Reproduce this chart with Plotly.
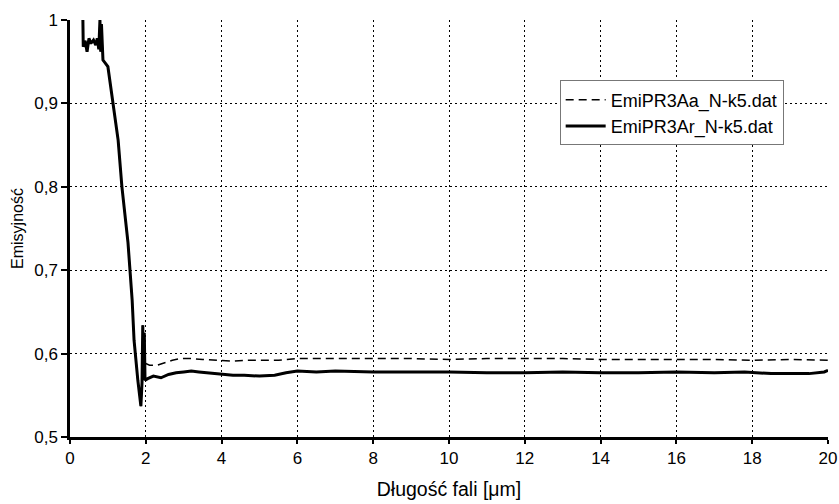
import plotly.graph_objects as go

# Solid series: EmiPR3Ar_N-k5.dat
x_ar = [0.34, 0.35, 0.40, 0.45, 0.50, 0.55, 0.62, 0.68, 0.72, 0.76, 0.79, 0.81, 0.83, 0.85, 0.87,
        1.00, 1.13, 1.27, 1.37, 1.53, 1.64, 1.69, 1.79, 1.84, 1.87, 1.90, 1.92, 1.94, 1.96, 1.98,
        2.05, 2.2, 2.4, 2.6, 2.8, 3.0, 3.2, 3.4, 3.6, 3.8, 4.0, 4.3, 4.6, 5.0, 5.4, 5.7, 6.0,
        6.5, 7.0, 8.0, 9.0, 10.0, 11.0, 12.0, 13.0, 14.0, 15.0, 16.0, 17.0, 17.8, 18.5, 19.0,
        19.5, 19.9, 20.0]
y_ar = [1.000, 0.968, 0.975, 0.962, 0.978, 0.972, 0.976, 0.970, 0.978, 0.965, 1.000, 0.962, 0.995, 0.958, 0.952,
        0.944, 0.900, 0.856, 0.800, 0.733, 0.664, 0.616, 0.568, 0.545, 0.537, 0.565, 0.634, 0.575, 0.625, 0.568,
        0.570, 0.573, 0.571, 0.575, 0.577, 0.578, 0.579, 0.578, 0.577, 0.576, 0.575, 0.574, 0.574, 0.573, 0.574, 0.577, 0.579,
        0.578, 0.579, 0.578, 0.578, 0.578, 0.577, 0.577, 0.578, 0.577, 0.577, 0.578, 0.577, 0.578, 0.576, 0.576,
        0.576, 0.578, 0.580]

# Dashed series: EmiPR3Aa_N-k5.dat
x_aa = [0.34, 0.35, 0.40, 0.45, 0.50, 0.55, 0.62, 0.68, 0.72, 0.76, 0.79, 0.81, 0.83, 0.85, 0.87,
        1.00, 1.13, 1.27, 1.37, 1.53, 1.64, 1.69, 1.79, 1.84, 1.87, 1.90, 1.92, 1.94, 1.96, 1.98,
        2.0, 2.1, 2.3, 2.5, 2.7, 2.9, 3.2, 3.5, 3.9, 4.3, 4.6, 5.0, 5.5, 6.0, 7.0, 8.0, 9.0,
        10.0, 11.0, 12.0, 13.0, 14.0, 15.0, 16.0, 17.0, 18.0, 19.0, 20.0]
y_aa = [1.000, 0.968, 0.975, 0.962, 0.978, 0.972, 0.976, 0.970, 0.978, 0.965, 1.000, 0.962, 0.995, 0.958, 0.952,
        0.944, 0.900, 0.856, 0.800, 0.733, 0.664, 0.616, 0.568, 0.545, 0.537, 0.565, 0.634, 0.575, 0.625, 0.588,
        0.588, 0.586, 0.586, 0.589, 0.592, 0.594, 0.594, 0.593, 0.592, 0.591, 0.592, 0.592, 0.592, 0.594, 0.594, 0.594, 0.594,
        0.593, 0.594, 0.594, 0.594, 0.593, 0.593, 0.593, 0.593, 0.592, 0.593, 0.592]

y_tickvals = [0.5, 0.6, 0.7, 0.8, 0.9, 1.0]
y_ticktext = ["0,5", "0,6", "0,7", "0,8", "0,9", "1"]
x_tickvals = [0, 2, 4, 6, 8, 10, 12, 14, 16, 18, 20]

fig = go.Figure()
fig.add_trace(go.Scatter(x=x_aa, y=y_aa, mode="lines", name="EmiPR3Aa_N-k5.dat",
                         line=dict(color="black", width=1.5, dash="8px,5px")))
fig.add_trace(go.Scatter(x=x_ar, y=y_ar, mode="lines", name="EmiPR3Ar_N-k5.dat",
                         line=dict(color="black", width=3)))

fig.update_layout(
    width=839, height=504,
    margin=dict(l=70, r=11, t=20, b=67, autoexpand=False),
    paper_bgcolor="white", plot_bgcolor="white",
    font=dict(family="Liberation Sans, Arial, sans-serif", size=13, color="black"),
    showlegend=True,
    legend=dict(x=0.646, y=0.855, xanchor="left", yanchor="top",
                bordercolor="#777777", borderwidth=1, bgcolor="white",
                font=dict(size=18), tracegroupgap=0, itemwidth=40),
)
fig.update_xaxes(
    range=[0, 20], tickvals=x_tickvals, ticks="outside", ticklen=4, tickwidth=1.5, tickcolor="black",
    showline=True, linecolor="black", linewidth=2.5,
    showgrid=True, gridcolor="black", gridwidth=1.2, griddash="2px,3px",
    zeroline=False, automargin=False,
    title=dict(text="Długość fali [μm]", font=dict(size=19.5), standoff=16),
    tickfont=dict(size=17),
)
fig.update_yaxes(
    range=[0.5, 1.0], tickvals=y_tickvals, ticktext=y_ticktext, ticks="outside", ticklen=6,
    tickwidth=1.5, tickcolor="black",
    showline=True, linecolor="black", linewidth=2.5,
    showgrid=True, gridcolor="black", gridwidth=1.2, griddash="2px,3px",
    zeroline=False, automargin=False,
    title=dict(text="Emisyjność", font=dict(size=16), standoff=7),
    tickfont=dict(size=17),
)

fig.write_html("out.html")
